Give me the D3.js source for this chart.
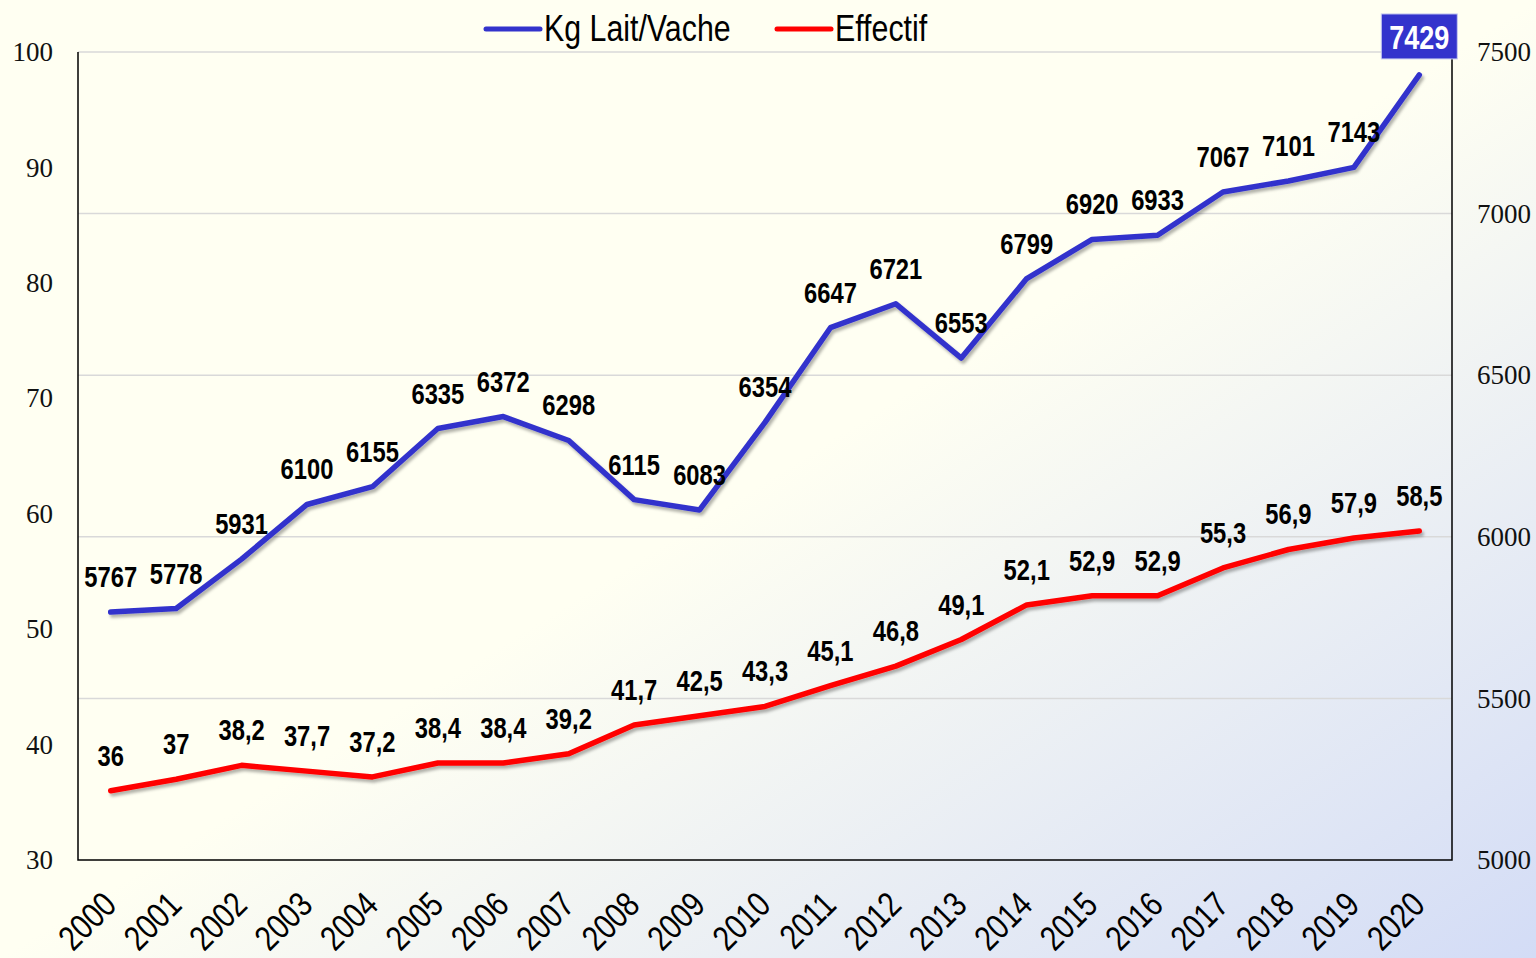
<!DOCTYPE html>
<html>
<head>
<meta charset="utf-8">
<script src="https://cdn.jsdelivr.net/npm/d3@7"></script>
<style>
  body { margin: 0; overflow: hidden; }
</style>
</head>
<body>
<div id="chart"></div>
<script>
var years = ["2000","2001","2002","2003","2004","2005","2006","2007","2008","2009","2010",
             "2011","2012","2013","2014","2015","2016","2017","2018","2019","2020"];
var laitVache = [5767,5778,5931,6100,6155,6335,6372,6298,6115,6083,6354,
                 6647,6721,6553,6799,6920,6933,7067,7101,7143,7429];
var effectif = [36,37,38.2,37.7,37.2,38.4,38.4,39.2,41.7,42.5,43.3,
                45.1,46.8,49.1,52.1,52.9,52.9,55.3,56.9,57.9,58.5];
var leftTicks = [30,40,50,60,70,80,90,100];
var rightTicks = [5000,5500,6000,6500,7000,7500];
var seriesNames = ["Kg Lait/Vache", "Effectif"];

var W = 1536, H = 958;
var margin = { left: 78, right: 84, top: 52, bottom: 98 };
var width = W - margin.left - margin.right;
var height = H - margin.top - margin.bottom;

// narrow sans: Liberation Sans squeezed like Arial Narrow
var SANS = "Liberation Sans, Arial, sans-serif";
var SERIF = "Liberation Serif, Times New Roman, serif";
var NARROW = 0.82;

var fr = d3.formatLocale({ decimal: ",", thousands: "", grouping: [3], currency: ["", "€"] });
var fmt = fr.format("~g");

var svg = d3.select("#chart").append("svg")
    .attr("width", W)
    .attr("height", H);

// background gradient
var defs = svg.append("defs");
var grad = defs.append("linearGradient")
    .attr("id", "bg")
    .attr("x1", "0").attr("y1", "0").attr("x2", "1").attr("y2", "1");
grad.append("stop").attr("offset", "0.5").attr("stop-color", "#FFFFF2");
grad.append("stop").attr("offset", "1").attr("stop-color", "#D3DCF6");

var shadow = defs.append("filter").attr("id", "shadow")
    .attr("x", "-5%").attr("y", "-5%").attr("width", "110%").attr("height", "120%");
shadow.append("feDropShadow")
    .attr("dx", 2).attr("dy", 3).attr("stdDeviation", 1.5)
    .attr("flood-color", "#000").attr("flood-opacity", 0.3);

svg.append("rect")
    .attr("width", W).attr("height", H)
    .attr("fill", "url(#bg)");

var g = svg.append("g")
    .attr("transform", "translate(" + margin.left + "," + margin.top + ")");

// scales
var x = d3.scalePoint().domain(years).range([0, width]).padding(0.5);
var yL = d3.scaleLinear().domain([30, 100]).range([height, 0]);
var yR = d3.scaleLinear().domain([5000, 7500]).range([height, 0]);

// gridlines on the right axis
g.selectAll(".grid")
    .data(rightTicks.slice(1))
    .enter().append("line")
    .attr("class", "grid")
    .attr("x1", 0).attr("x2", width)
    .attr("y1", function(d){ return yR(d); })
    .attr("y2", function(d){ return yR(d); })
    .attr("stroke", "#D9D9D9")
    .attr("stroke-width", 1.5);

// frame: left, bottom, right
g.append("path")
    .attr("d", "M0,0V" + height + "H" + width + "V0")
    .attr("fill", "none")
    .attr("stroke", "#000")
    .attr("stroke-width", 1.5);

// left axis labels
var leftAxis = d3.axisLeft(yL).tickValues(leftTicks).tickSize(0).tickPadding(25);
g.append("g").attr("class", "y axis left")
    .call(leftAxis)
    .call(function(s){ s.select(".domain").remove(); })
    .selectAll("text")
    .attr("font-family", SERIF)
    .attr("font-size", 27)
    .attr("fill", "#111");

// right axis labels
var rightAxis = d3.axisRight(yR).tickValues(rightTicks).tickSize(0).tickPadding(25)
    .tickFormat(d3.format("d"));
g.append("g").attr("class", "y axis right")
    .attr("transform", "translate(" + width + ",0)")
    .call(rightAxis)
    .call(function(s){ s.select(".domain").remove(); })
    .selectAll("text")
    .attr("font-family", SERIF)
    .attr("font-size", 27)
    .attr("fill", "#111");

// x axis labels
var xAxis = d3.axisBottom(x).tickSize(0).tickPadding(0);
g.append("g").attr("class", "x axis")
    .attr("transform", "translate(0," + height + ")")
    .call(xAxis)
    .call(function(s){ s.select(".domain").remove(); })
    .selectAll("text")
    .attr("font-family", SANS)
    .attr("font-size", 35)
    .attr("fill", "#000")
    .attr("text-anchor", "end")
    .attr("x", 0).attr("y", 0).attr("dy", 0)
    .attr("transform", "translate(7,47) rotate(-45) scale(" + NARROW + ",1)");

// lines
var lineL = d3.line()
    .x(function(d, i){ return x(years[i]); })
    .y(function(d){ return yR(d); });
var lineE = d3.line()
    .x(function(d, i){ return x(years[i]); })
    .y(function(d){ return yL(d); });

g.append("path")
    .datum(effectif)
    .attr("d", lineE)
    .attr("fill", "none")
    .attr("stroke", "#FF0000")
    .attr("stroke-width", 5.5)
    .attr("stroke-linejoin", "round")
    .attr("stroke-linecap", "round")
    .attr("filter", "url(#shadow)");

g.append("path")
    .datum(laitVache)
    .attr("d", lineL)
    .attr("fill", "none")
    .attr("stroke", "#3333CC")
    .attr("stroke-width", 5.5)
    .attr("stroke-linejoin", "round")
    .attr("stroke-linecap", "round")
    .attr("filter", "url(#shadow)");

// data labels
var last = laitVache.length - 1;
g.selectAll(".lbl-lait")
    .data(laitVache.slice(0, last))
    .enter().append("text")
    .attr("class", "lbl-lait")
    .attr("transform", function(d, i){
        return "translate(" + x(years[i]) + "," + (yR(d) - 25) + ") scale(" + NARROW + ",1)";
    })
    .attr("text-anchor", "middle")
    .attr("font-family", SANS)
    .attr("font-size", 29)
    .attr("font-weight", "bold")
    .attr("fill", "#000")
    .text(function(d){ return d; });

g.selectAll(".lbl-eff")
    .data(effectif)
    .enter().append("text")
    .attr("class", "lbl-eff")
    .attr("transform", function(d, i){
        return "translate(" + x(years[i]) + "," + (yL(d) - 25) + ") scale(" + NARROW + ",1)";
    })
    .attr("text-anchor", "middle")
    .attr("font-family", SANS)
    .attr("font-size", 29)
    .attr("font-weight", "bold")
    .attr("fill", "#000")
    .text(function(d){ return fmt(d); });

// highlighted last value
var lx = x(years[last]), ly = yR(laitVache[last]) - 38;
g.append("rect")
    .attr("x", lx - 38).attr("y", ly - 23)
    .attr("width", 76).attr("height", 45)
    .attr("fill", "#3333CC")
    .attr("stroke", "#C8CCF0")
    .attr("stroke-width", 1);
g.append("text")
    .attr("transform", "translate(" + lx + "," + (ly + 12) + ") scale(" + NARROW + ",1)")
    .attr("text-anchor", "middle")
    .attr("font-family", SANS)
    .attr("font-size", 33)
    .attr("font-weight", "bold")
    .attr("fill", "#fff")
    .text(laitVache[last]);

// legend
var legend = svg.append("g").attr("class", "legend");
var legendItems = [
  { name: seriesNames[0], color: "#3333CC", x: 486 },
  { name: seriesNames[1], color: "#FF0000", x: 777 }
];
legendItems.forEach(function(it){
  legend.append("line")
      .attr("x1", it.x).attr("x2", it.x + 54)
      .attr("y1", 29).attr("y2", 29)
      .attr("stroke", it.color)
      .attr("stroke-width", 5)
      .attr("stroke-linecap", "round");
  legend.append("text")
      .attr("transform", "translate(" + (it.x + 58) + ",41) scale(" + NARROW + ",1)")
      .attr("font-family", SANS)
      .attr("font-size", 37)
      .attr("fill", "#000")
      .text(it.name);
});
</script>
</body>
</html>
